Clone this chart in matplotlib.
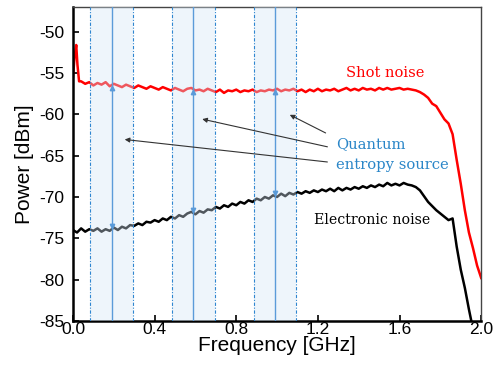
import matplotlib
matplotlib.use("Agg")
import matplotlib.pyplot as plt
import numpy as np

plt.rcParams['font.family'] = ['Liberation Sans', 'DejaVu Sans']
plt.rcParams['axes.unicode_minus'] = False

# shot noise trace [dBm], first few points are the DC spike, then a 0.02 GHz grid from 0.04
shot_spike_f = [0.0, 0.008, 0.016, 0.022, 0.03]
shot_spike_p = [-55.5, -53.0, -51.6, -54.0, -56.0]
shot_p = [-56.0, -56.3, -56.1, -56.5, -56.2, -56.4, -56.1, -56.6, -56.3, -56.5,
          -56.7, -56.4, -56.6, -56.8, -56.5, -56.7, -56.9, -56.6, -56.8, -57.0,
          -56.7, -56.9, -57.1, -56.8, -57.0, -57.2, -56.9, -56.8, -57.1, -57.0,
          -57.2, -56.9, -57.1, -57.3, -57.0, -57.4, -57.1, -57.2, -57.0, -57.3,
          -57.1, -57.2, -57.0, -57.3, -57.1, -57.2, -57.0, -57.1, -56.9, -57.2,
          -57.0, -57.1, -56.9, -57.2, -57.0, -57.3, -57.0, -57.2, -56.9, -57.2,
          -57.0, -57.1, -56.9, -57.2, -57.0, -56.8, -57.1, -56.9, -57.1, -56.8,
          -57.0, -56.9, -57.1, -56.8, -57.0, -56.8, -57.0, -56.9, -56.8, -57.0,
          -56.9, -57.0, -57.1, -57.3, -57.6, -58.0, -58.7, -59.0, -59.8, -60.6,
          -61.1, -62.4, -65.5, -68.4, -71.6, -74.3, -76.2, -78.3, -79.8]
shot_f0 = 0.04

# electronic noise trace [dBm] on a 0.02 GHz grid from 0.0
elec_p = [-74.0, -74.3, -73.8, -74.2, -73.9, -74.1, -73.8, -74.2, -73.9, -74.1,
          -73.7, -74.0, -73.6, -73.8, -73.4, -73.5, -73.2, -73.4, -73.0, -73.1,
          -72.8, -73.0, -72.6, -72.8, -72.4, -72.6, -72.2, -72.4, -72.0, -71.8,
          -72.1, -71.7, -71.9, -71.5, -71.6, -71.2, -71.4, -71.0, -71.2, -70.8,
          -71.0, -70.6, -70.8, -70.4, -70.6, -70.2, -70.4, -70.0, -70.2, -69.8,
          -70.0, -69.6, -69.9, -69.5, -69.7, -69.4, -69.6, -69.3, -69.5, -69.2,
          -69.4, -69.1, -69.3, -69.0, -69.3, -68.9, -69.2, -68.9, -69.1, -68.8,
          -69.0, -68.7, -68.9, -68.6, -68.8, -68.5, -68.7, -68.3, -68.6, -68.4,
          -68.6, -68.3, -68.5, -68.6, -68.8, -69.2, -69.9, -70.6, -71.1, -71.6,
          -72.0, -72.4, -72.8, -72.6, -76.0, -78.8, -81.0, -83.6, -86.0]
elec_f0 = 0.0
step = 0.02

# quantum entropy source bands (center, half width) [GHz]
band_centers = [0.19, 0.59, 0.99]
band_half = 0.105

shot_f = shot_f0 + step * np.arange(len(shot_p))
elec_f = elec_f0 + step * np.arange(len(elec_p))
shot_all_f = np.concatenate([shot_spike_f, shot_f])
shot_all_p = np.concatenate([shot_spike_p, shot_p])

fig = plt.figure(figsize=(4.93, 3.68), dpi=100)
ax = fig.add_axes([0.148, 0.128, 0.828, 0.853])

ax.plot(shot_all_f, shot_all_p, color="red", lw=1.8, zorder=2)
ax.plot(elec_f, elec_p, color="black", lw=1.8, zorder=2)

for c in band_centers:
    ax.axvspan(c - band_half, c + band_half, color="#d4e6f7", alpha=0.38, lw=0, zorder=3)
    for e in (c - band_half, c + band_half):
        ax.axvline(e, color="#2f86d0", lw=0.8, dashes=(3, 1.5, 1, 1.5), zorder=4)
    ax.axvline(c, color="#5b9bd9", lw=1.0, zorder=4)
    ys = np.interp(c, shot_all_f, shot_all_p)
    ye = np.interp(c, elec_f, elec_p)
    ax.plot(c, ys - 0.35, marker="^", ms=3.2, color="#5b9bd9", zorder=5)
    ax.plot(c, ye + 0.35, marker="v", ms=3.2, color="#5b9bd9", zorder=5)

serif = ["DejaVu Serif"]
ax.text(1.53, -55.0, "Shot noise", color="red", fontsize=10.5, family=serif,
        ha="center", va="center")
ax.text(1.18, -72.8, "Electronic noise", color="black", fontsize=10.2, family=serif,
        ha="left", va="center")
ax.text(1.29, -63.6, "Quantum", color="#2a86c8", fontsize=10.6, family=serif,
        ha="left", va="center")
ax.text(1.29, -66.1, "entropy source", color="#2a86c8", fontsize=10.6, family=serif,
        ha="left", va="center")

arr = dict(arrowstyle="-|>", color="#333333", lw=0.8, mutation_scale=7)
ax.annotate("", xy=(1.05, -59.9), xytext=(1.25, -62.4), arrowprops=arr, zorder=6)
ax.annotate("", xy=(0.62, -60.5), xytext=(1.26, -64.0), arrowprops=arr, zorder=6)
ax.annotate("", xy=(0.24, -63.0), xytext=(1.26, -65.8), arrowprops=arr, zorder=6)

ax.set_xlim(0, 2.0)
ax.set_ylim(-85, -47)
ax.set_xticks([0.0, 0.4, 0.8, 1.2, 1.6, 2.0])
ax.set_xticklabels(["0.0", "0.4", "0.8", "1.2", "1.6", "2.0"])
ax.set_yticks([-85, -80, -75, -70, -65, -60, -55, -50])
ax.tick_params(direction="in", labelsize=12.5, length=4, width=1.2)
ax.tick_params(axis="x", pad=1)
ax.tick_params(axis="y", pad=6)
ax.set_xlabel("Frequency [GHz]", fontsize=15, labelpad=-1)
ax.set_ylabel("Power [dBm]", fontsize=15, labelpad=4)
for s in ["left", "bottom"]:
    ax.spines[s].set_linewidth(1.8)
for s in ["top", "right"]:
    ax.spines[s].set_linewidth(1.0)
    ax.spines[s].set_color("#444444")

fig.savefig("out.png", dpi=100)
